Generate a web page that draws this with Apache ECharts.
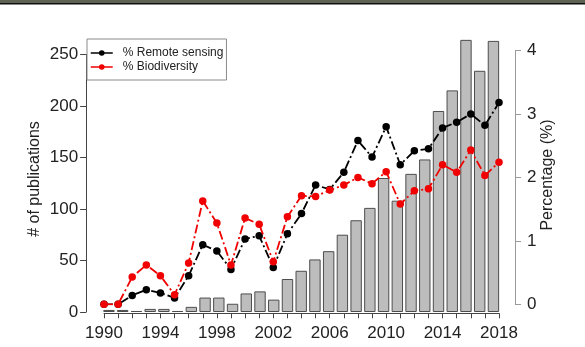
<!DOCTYPE html>
<html>
<head>
<meta charset="utf-8">
<script src="https://cdn.jsdelivr.net/npm/echarts@6/dist/echarts.min.js"></script>
<style>
  html, body { margin: 0; padding: 0; background: #ffffff; }
  #chart { width: 585px; height: 347px; }
</style>
</head>
<body>
<div id="chart"></div>
<script>
// Publications per year (bars, left axis) and shares in percent (lines, right axis)
const years = [1990, 1991, 1992, 1993, 1994, 1995, 1996, 1997, 1998, 1999,
               2000, 2001, 2002, 2003, 2004, 2005, 2006, 2007, 2008, 2009,
               2010, 2011, 2012, 2013, 2014, 2015, 2016, 2017, 2018];

const publications = [2, 2, 1, 3, 3, 1, 5, 14, 14, 8,
                      18, 20, 12, 32, 40, 51, 59, 75, 89, 101,
                      130, 108, 134, 148, 195, 215, 264, 234, 263];

const remoteSensingPct = [0, 0, 0.14, 0.23, 0.18, 0.10, 0.45, 0.94, 0.84, 0.55,
                          1.03, 1.08, 0.58, 1.11, 1.43, 1.88, 1.81, 2.08, 2.58, 2.32,
                          2.80, 2.20, 2.42, 2.45, 2.78, 2.87, 3.00, 2.82, 3.18];

const biodiversityPct = [0, 0, 0.43, 0.62, 0.45, 0.15, 0.65, 1.63, 1.28, 0.62,
                         1.36, 1.26, 0.67, 1.38, 1.71, 1.70, 1.80, 1.88, 2.00, 1.90,
                         2.09, 1.58, 1.79, 1.82, 2.20, 2.08, 2.43, 2.03, 2.24];

const leftTicks = { min: 0, max: 250, step: 50 };
const rightTicks = { min: 0, max: 4, step: 1 };
const labelEvery = 4;

const FONT = 'Liberation Sans, Arial, sans-serif';
const dashPattern = [9, 3, 2, 3];

const chart = echarts.init(document.getElementById('chart'), null, { renderer: 'canvas' });

chart.setOption({
  animation: false,
  backgroundColor: '#ffffff',
  textStyle: { fontFamily: FONT },
  grid: [
    { left: 102.1, right: 84.7, top: 54.3, bottom: 35, containLabel: false },
    { left: 104, right: 86, top: 50.5, bottom: 42.7, containLabel: false }
  ],
  legend: {
    orient: 'vertical',
    left: 87,
    top: 39,
    padding: [7, 3, 6, 3],
    itemGap: 0,
    itemWidth: 22,
    itemHeight: 7,
    borderColor: '#8a8a8a',
    borderWidth: 1,
    backgroundColor: '#ffffff',
    lineStyle: { type: 'solid', width: 1.5 },
    textStyle: { fontFamily: FONT, fontSize: 12, color: '#222', lineHeight: 14, padding: [0, 0, 0, 5] },
    data: ['% Remote sensing', '% Biodiversity']
  },
  xAxis: [
    {
      gridIndex: 0,
      type: 'category',
      data: years,
      show: false,
      boundaryGap: true
    },
    {
      gridIndex: 1,
      type: 'value',
      min: years[0],
      max: years[years.length - 1],
      interval: 1,
      position: 'bottom',
      offset: 9,
      axisLine: { show: true, onZero: false, lineStyle: { color: '#444', width: 1 } },
      axisTick: { show: true, length: 5, lineStyle: { color: '#444', width: 1 } },
      axisLabel: {
        fontFamily: FONT,
        fontSize: 17,
        color: '#222',
        margin: 12,
        formatter: v => ((v - years[0]) % labelEvery === 0 ? String(v) : '')
      },
      splitLine: { show: false }
    }
  ],
  yAxis: [
    {
      gridIndex: 0,
      type: 'value',
      min: leftTicks.min,
      max: leftTicks.max,
      interval: leftTicks.step,
      position: 'left',
      offset: 16,
      axisLine: { show: true, onZero: false, lineStyle: { color: '#444', width: 1 } },
      axisTick: { show: true, length: 6, lineStyle: { color: '#444', width: 1 } },
      axisLabel: { fontFamily: FONT, fontSize: 17, color: '#222', margin: 8 },
      splitLine: { show: false }
    },
    {
      gridIndex: 1,
      type: 'value',
      min: rightTicks.min,
      max: rightTicks.max,
      interval: rightTicks.step,
      position: 'right',
      offset: 16,
      axisLine: { show: true, onZero: false, lineStyle: { color: '#9a9a9a', width: 1 } },
      axisTick: { show: true, length: 6, lineStyle: { color: '#9a9a9a', width: 1 } },
      axisLabel: { fontFamily: FONT, fontSize: 17, color: '#222', margin: 12 },
      splitLine: { show: false }
    }
  ],
  series: [
    {
      name: 'Publications',
      type: 'bar',
      xAxisIndex: 0,
      yAxisIndex: 0,
      data: publications,
      barWidth: '83%',
      clip: false,
      itemStyle: { color: '#bdbdbd', borderColor: '#4d4d4d', borderWidth: 1 },
      z: 1
    },
    {
      name: '% Remote sensing',
      type: 'line',
      xAxisIndex: 1,
      yAxisIndex: 1,
      data: years.map((y, i) => [y, remoteSensingPct[i]]),
      symbol: 'circle',
      symbolSize: 7.5,
      itemStyle: { color: '#000000' },
      lineStyle: { color: '#000000', width: 1.8, type: dashPattern },
      z: 3
    },
    {
      name: '% Biodiversity',
      type: 'line',
      xAxisIndex: 1,
      yAxisIndex: 1,
      data: years.map((y, i) => [y, biodiversityPct[i]]),
      symbol: 'circle',
      symbolSize: 7.5,
      itemStyle: { color: '#f00000' },
      lineStyle: { color: '#f00000', width: 1.8, type: dashPattern },
      z: 4
    }
  ],
  graphic: [
    {
      type: 'rect',
      shape: { x: 0, y: 0, width: 585, height: 3 },
      style: { fill: '#5e6253' },
      silent: true
    },
    {
      type: 'rect',
      shape: { x: 0, y: 3, width: 585, height: 1.5 },
      style: { fill: '#111111' },
      silent: true
    },
    {
      type: 'text',
      x: 35,
      y: 179,
      rotation: Math.PI / 2,
      style: {
        text: '# of publications',
        fontFamily: FONT,
        fontSize: 16,
        fill: '#222',
        align: 'center',
        verticalAlign: 'middle'
      }
    },
    {
      type: 'text',
      x: 548,
      y: 175,
      rotation: Math.PI / 2,
      style: {
        text: 'Percentage (%)',
        fontFamily: FONT,
        fontSize: 16,
        fill: '#222',
        align: 'center',
        verticalAlign: 'middle'
      }
    }
  ]
});
</script>
</body>
</html>
